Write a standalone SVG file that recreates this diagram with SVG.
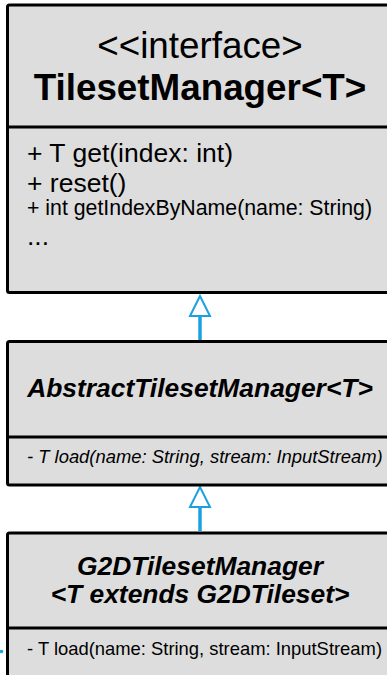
<svg xmlns="http://www.w3.org/2000/svg" width="387" height="675" viewBox="0 0 387 675">
  <style>
    .box { fill: #dddddd; stroke: #000000; stroke-width: 3; }
    .sep { stroke: #000000; stroke-width: 3; }
    .t { font-family: "Liberation Sans", Arial, sans-serif; fill: #000000; }
    .c { text-anchor: middle; }
    .edge { stroke: #1ba1e2; stroke-width: 3.5; fill: none; }
    .head { fill: #ffffff; stroke: #1ba1e2; stroke-width: 2; }
  </style>
  <rect x="0" y="0" width="387" height="675" fill="#ffffff"/>

  <g id="connectors">
    <line class="edge" x1="200" y1="316" x2="200" y2="340"/>
    <polygon class="head" points="200,296 190,316 210,316"/>
    <line class="edge" x1="200" y1="507" x2="200" y2="531"/>
    <polygon class="head" points="200,487 190,507 210,507"/>
    <circle cx="1.5" cy="651.5" r="1.8" fill="#1ba1e2"/>
  </g>

  <g id="TilesetManager">
    <rect class="box" x="7.5" y="5" width="390" height="287.5" rx="2"/>
    <line class="sep" x1="7.5" y1="127" x2="397.5" y2="127"/>
    <text class="t c" x="200" y="58" font-size="36.8">&lt;&lt;interface&gt;</text>
    <text class="t c" x="200" y="100" font-size="36.8" font-weight="bold">TilesetManager&lt;T&gt;</text>
    <text class="t" x="27" y="162" font-size="26.5">+ T get(index: int)</text>
    <text class="t" x="27" y="192" font-size="26.5">+ reset()</text>
    <text class="t" x="27" y="215" font-size="21.3">+ int getIndexByName(name: String)</text>
    <text class="t" x="27" y="245" font-size="26.5">...</text>
  </g>

  <g id="AbstractTilesetManager">
    <rect class="box" x="7.5" y="341.5" width="390" height="143.5" rx="2"/>
    <line class="sep" x1="7.5" y1="437" x2="397.5" y2="437"/>
    <text class="t c" x="200" y="397" font-size="26.4" font-weight="bold" font-style="italic">AbstractTilesetManager&lt;T&gt;</text>
    <text class="t" x="27" y="463" font-size="18.4" font-style="italic">- T load(name: String, stream: InputStream)</text>
  </g>

  <g id="G2DTilesetManager">
    <rect class="box" x="7.5" y="533" width="390" height="160" rx="2"/>
    <line class="sep" x1="7.5" y1="628" x2="397.5" y2="628"/>
    <text class="t c" x="200" y="575" font-size="26.4" font-weight="bold" font-style="italic">G2DTilesetManager</text>
    <text class="t c" x="200" y="603" font-size="26.4" font-weight="bold" font-style="italic">&lt;T extends G2DTileset&gt;</text>
    <text class="t" x="27" y="655" font-size="18.4">- T load(name: String, stream: InputStream)</text>
  </g>
</svg>
